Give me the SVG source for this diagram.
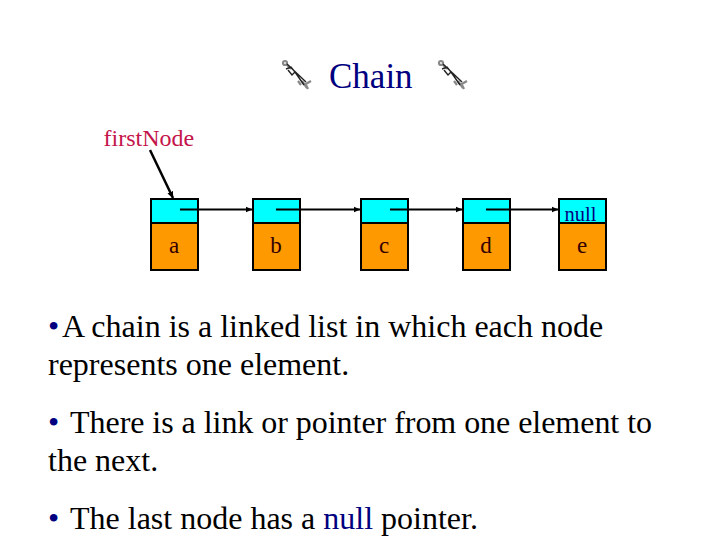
<svg xmlns="http://www.w3.org/2000/svg" width="720" height="540" viewBox="0 0 720 540">
<style>
text{font-family:"Liberation Serif","Times New Roman",serif}
.box{stroke:#000;stroke-width:2}
.top{fill:#00ffff}
.bot{fill:#ff9900}
.lbl{font-size:23px;fill:#330000;text-anchor:middle}
.body{font-size:32px;fill:#000}
.blue{fill:#000080}
.link{stroke:#000;stroke-width:2;fill:none;marker-end:url(#arr)}
.wb{fill:none;stroke:#222;stroke-width:1.4}
.wg{fill:none;stroke:#888;stroke-width:2.200}
</style>
<defs>
<marker id="arr" markerWidth="7" markerHeight="7" refX="6.500" refY="3.500" orient="auto" markerUnits="userSpaceOnUse"><path d="M0 0.500L7 3.500L0 6.500Z" fill="#000"/></marker>
<g id="wrench">
<circle class="wg" cx="3" cy="3" r="2"/>
<path class="wg" d="M5 5L9 9M20 21L25 28M22 25L29 21"/>
<path class="wb" d="M5 4L24 22M4 9L9 7L13 12L10 15L6 10M13 12L22 25"/>
<path class="wg" d="M16 21L19 25M24 25L26 29"/>
</g>
</defs>
<rect width="720" height="540" fill="#fff"/>
<use id="wrench-left" href="#wrench" x="282" y="60"/>
<use id="wrench-right" href="#wrench" x="438" y="60"/>
<text id="title" x="329" y="88" font-size="35" fill="#000080">Chain</text>
<text id="first-label" x="103.500" y="146" font-size="24" fill="#c4144a">firstNode</text>
<g id="node-a"><rect class="box top" x="151" y="199" width="47" height="24"/><rect class="box bot" x="151" y="223" width="47" height="47"/><text class="lbl" x="174" y="253">a</text></g>
<g id="node-b"><rect class="box top" x="253" y="199" width="47" height="24"/><rect class="box bot" x="253" y="223" width="47" height="47"/><text class="lbl" x="276" y="253">b</text></g>
<g id="node-c"><rect class="box top" x="361" y="199" width="47" height="24"/><rect class="box bot" x="361" y="223" width="47" height="47"/><text class="lbl" x="384" y="253">c</text></g>
<g id="node-d"><rect class="box top" x="463" y="199" width="47" height="24"/><rect class="box bot" x="463" y="223" width="47" height="47"/><text class="lbl" x="486" y="253">d</text></g>
<g id="node-e"><rect class="box top" x="559" y="199" width="47" height="24"/><rect class="box bot" x="559" y="223" width="47" height="47"/><text class="lbl" x="582" y="253">e</text><text x="564.500" y="221" font-size="20.500" fill="#000080">null</text></g>
<g id="connectors">
<path class="link" style="stroke-width:2.500" d="M150 150L173 198"/>
<path class="link" d="M180 209.500H252"/>
<path class="link" d="M276 209.500H360"/>
<path class="link" d="M390 209.500H462"/>
<path class="link" d="M486 209.500H558"/>
</g>
<text class="body blue" x="48" y="337">•</text>
<text class="body" x="62" y="337">A chain is a linked list in which each node</text>
<text class="body" x="48" y="375">represents one element.</text>
<text class="body blue" x="48" y="433">•</text>
<text class="body" x="70" y="433" textLength="582">There is a link or pointer from one element to</text>
<text class="body" x="48" y="471">the next.</text>
<text class="body blue" x="48" y="529">•</text>
<text class="body" x="70" y="529">The last node has a <tspan class="blue">null</tspan> pointer.</text>
</svg>
